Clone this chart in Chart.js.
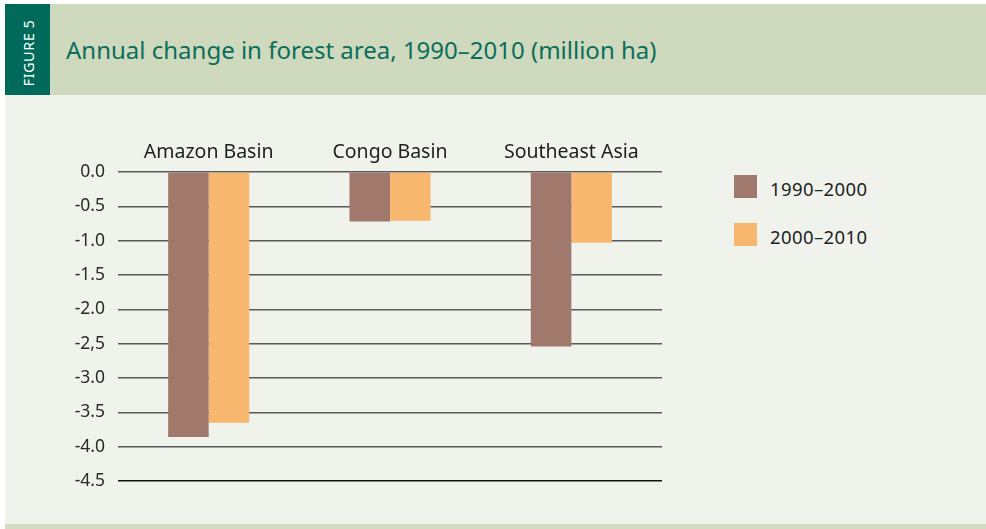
<!DOCTYPE html>
<html>
<head>
<meta charset="utf-8">
<script src="https://cdn.jsdelivr.net/npm/chart.js@4.4.0/dist/chart.umd.min.js"></script>
<style>
  body { margin: 0; background: #ffffff; font-family: "Noto Sans", sans-serif; }
  #panel { position: absolute; left: 5px; top: 4px; width: 981px; height: 525px; background: #f0f2ec; overflow: hidden; }
  #header { position: absolute; left: 0; top: 0; width: 981px; height: 91px; background: #cfd9bd; }
  #figtag { position: absolute; left: 0; top: 0; width: 45px; height: 91px; background: #006a5a; }
  #figtag span { position: absolute; left: 23px; top: 49px; transform: translate(-50%, -50%) rotate(-90deg); color: #ffffff; font-size: 14.5px; white-space: nowrap; letter-spacing: 0.5px; }
  #title { position: absolute; left: 61px; top: 29px; color: #0b6e5c; font-size: 24px; white-space: nowrap; }
  #footer { position: absolute; left: 0; top: 520px; width: 981px; height: 5px; background: #d3dcc3; }
  #chartBox { position: absolute; left: -5px; top: 91px; width: 700px; height: 427px; }
  #legend { position: absolute; left: 729px; top: 171px; }
  .item { position: relative; height: 48px; }
  .swatch { position: absolute; left: 0; top: 0; width: 23px; height: 23px; }
  .label { position: absolute; left: 36px; top: 1px; font-size: 18.5px; letter-spacing: 0.4px; color: #222; white-space: nowrap; }
</style>
</head>
<body>
<div id="panel">
  <div id="header">
    <div id="figtag"><span>FIGURE 5</span></div>
    <div id="title">Annual change in forest area, 1990–2010 (million ha)</div>
  </div>
  <div id="chartBox"><canvas id="forestChart"></canvas></div>
  <div id="legend"></div>
  <div id="footer"></div>
</div>
<script>
// Chart data
const regions = ['Amazon Basin', 'Congo Basin', 'Southeast Asia'];
const change1990to2000 = [-3.86, -0.72, -2.54];
const change2000to2010 = [-3.65, -0.71, -1.03];
const periods = ['1990–2000', '2000–2010'];
const periodColors = ['#a0786c', '#f7b76e'];
const tickValues = [0, -0.5, -1, -1.5, -2, -2.5, -3, -3.5, -4, -4.5];
const tickLabels = ['0.0', '-0.5', '-1.0', '-1.5', '-2.0', '-2,5', '-3.0', '-3.5', '-4.0', '-4.5'];

const ctx = document.getElementById('forestChart').getContext('2d');

const chart = new Chart(ctx, {
    type: 'bar',
    data: {
        labels: regions,
        datasets: [
            { label: periods[0], data: change1990to2000, backgroundColor: periodColors[0] },
            { label: periods[1], data: change2000to2010, backgroundColor: periodColors[1] }
        ]
    },
    options: {
        responsive: true,
        maintainAspectRatio: false,
        animation: false,
        categoryPercentage: 0.447,
        barPercentage: 1.0,
        layout: { padding: { left: 0, right: 38, top: 0, bottom: 41 } },
        plugins: {
            legend: { display: false },
            tooltip: { enabled: false }
        },
        scales: {
            x: {
                position: 'top',
                grid: { display: false },
                border: { display: false },
                ticks: {
                    color: '#1e1e1e',
                    font: { family: 'Noto Sans', size: 19.5 },
                    padding: 0
                },
                afterFit: (axis) => { axis.height = 77; }
            },
            y: {
                min: -4.5,
                max: 0,
                afterBuildTicks: (axis) => { axis.ticks = tickValues.map(v => ({ value: v })); },
                afterFit: (axis) => { axis.width = 118; },
                grid: {
                    color: (c) => c.tick && c.tick.value === -4.5 ? '#111111' : '#5a5a5a',
                    lineWidth: 1.5,
                    drawTicks: false
                },
                border: { display: false },
                ticks: {
                    color: '#2a2a2a',
                    font: { family: 'Noto Sans', size: 17.5 },
                    padding: 13,
                    callback: (value) => {
                        const i = tickValues.indexOf(value);
                        return i >= 0 ? tickLabels[i] : '';
                    }
                }
            }
        }
    }
});

// Build the legend from the datasets
const legendEl = document.getElementById('legend');
periods.forEach((p, i) => {
    const item = document.createElement('div');
    item.className = 'item';
    item.innerHTML = '<div class="swatch" style="background:' + periodColors[i] + '"></div><div class="label">' + p + '</div>';
    legendEl.appendChild(item);
});
</script>
</body>
</html>
